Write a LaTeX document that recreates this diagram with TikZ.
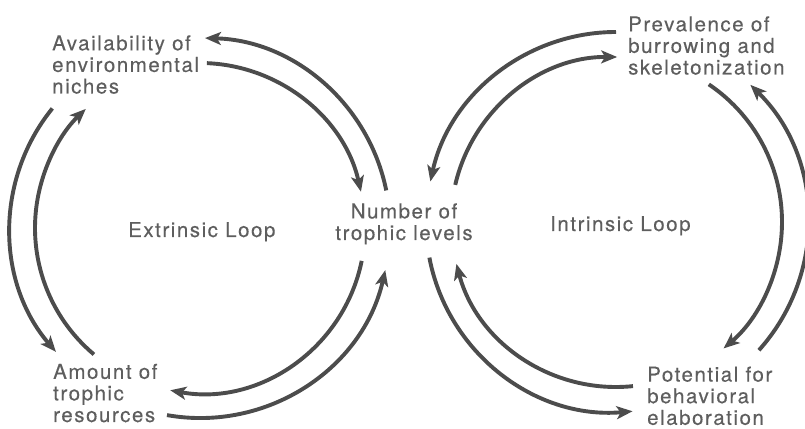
\documentclass[tikz,border=0pt]{standalone}
\usepackage{fontspec}
\usetikzlibrary{arrows.meta}
\newfontfamily\loopfont{TeX Gyre Heros}[LetterSpace=7.5,FakeBold=0.3]
\definecolor{arcgray}{RGB}{76,76,76}
\definecolor{textgray}{RGB}{94,94,94}

\begin{document}
\begin{tikzpicture}[x=1pt,y=1pt,
    loopline/.style={arcgray,line width=3.9pt,-{Stealth[length=16pt,width=13pt,inset=4pt]}},
    txt/.style={textgray,inner sep=0pt,align=left,font=\loopfont\fontsize{20.5}{21.6}\selectfont}]
  \useasboundingbox (0,0) rectangle (805,428);
  % loop centres
  \coordinate (ext) at (200,200);
  \coordinate (int) at (616,206);

  % texts (base = last line)
  \node[txt,anchor=base west] (niches) at (52,334.5) {Availability of\\environmental\\niches};
  \node[txt,anchor=base west] (resources) at (53,6) {Amount of\\trophic\\resources};
  \node[txt,anchor=base,align=center] (levels) at (404,188) {Number of\\trophic levels};
  \node[txt,anchor=base west] (extloop) at (128,191) {Extrinsic Loop};
  \node[txt,anchor=base west] (intloop) at (550,197) {Intrinsic Loop};
  \node[txt,anchor=base west] (burrow) at (628,353.5) {Prevalence of\\burrowing and\\skeletonization};
  \node[txt,anchor=base west] (behav) at (647,3.2) {Potential for\\behavioral\\elaboration};

  % extrinsic loop arcs: name/start/end/radius
  \foreach \n/\a/\b/\r in {ea/11.4/88.5/190, eb/87.6/12.7/165, ec/141/220.7/190,
                           ed/230/133.8/165, ee/-11.5/-100.4/165, ef/-100/-12.8/190}{
    \coordinate (\n) at ([shift={(\a:\r)}]ext);
    \draw[loopline] (\n) arc[start angle=\a,end angle=\b,radius=\r];
  }
  % intrinsic loop arcs
  \foreach \n/\a/\b/\r in {ia/90/167.7/190, ib/167/89.6/165, ic/-41.9/45.6/192,
                           id/56/-49.6/166, ie/190.8/275/190, if/275.9/194.7/165}{
    \coordinate (\n) at ([shift={(\a:\r)}]int);
    \draw[loopline] (\n) arc[start angle=\a,end angle=\b,radius=\r];
  }
\end{tikzpicture}
\end{document}
